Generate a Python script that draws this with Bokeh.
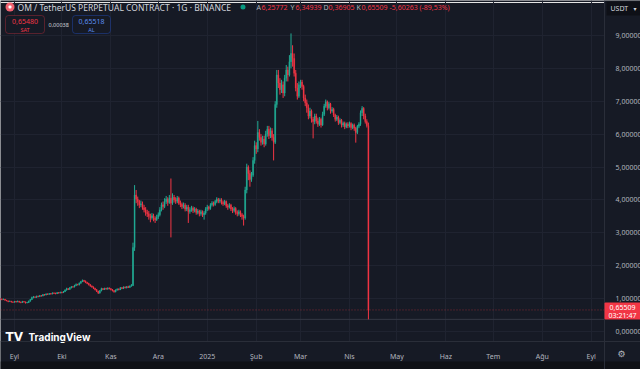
import datetime as dt
from bokeh.plotting import figure
from bokeh.models import (Range1d, LinearAxis, FixedTicker, CustomJSTickFormatter, Label,
                          BoxAnnotation, Span, ColumnDataSource, Grid)
from bokeh.embed import file_html
from bokeh.resources import INLINE

# ---------------- data (daily candles, OM/USDT perpetual) ----------------
first_date = "2024-08-23"
first_open = 1.00
closes = [
    0.99, 0.97, 0.98, 0.95, 0.93, 0.91, 0.92, 0.90, 0.89, 0.91,
    0.90, 0.92, 0.89, 0.88, 0.91, 0.90, 0.87, 0.88, 0.92, 0.97,
    1.03, 1.05, 1.04, 1.07, 1.06, 1.09, 1.08, 1.12, 1.11, 1.14,
    1.13, 1.15, 1.14, 1.17, 1.16, 1.15, 1.18, 1.17, 1.19, 1.18,
    1.21, 1.26, 1.30, 1.28, 1.33, 1.36, 1.35, 1.40, 1.43, 1.42,
    1.47, 1.52, 1.55, 1.53, 1.49, 1.46, 1.42, 1.38, 1.35, 1.31,
    1.27, 1.22, 1.17, 1.24, 1.30, 1.28, 1.31, 1.29, 1.32, 1.30,
    1.27, 1.24, 1.21, 1.26, 1.29, 1.27, 1.33, 1.31, 1.35, 1.33,
    1.36, 1.34, 1.38, 1.40, 2.55, 4.15, 4.02, 3.95, 3.85, 3.88,
    3.76, 3.70, 3.62, 3.58, 3.50, 3.46, 3.52, 3.44, 3.40, 3.48,
    3.55, 3.70, 3.85, 3.80, 3.95, 4.02, 3.92, 4.05, 3.90, 4.08,
    4.00, 3.96, 4.05, 3.90, 3.86, 3.80, 3.84, 3.72, 3.78, 3.65,
    3.70, 3.75, 3.68, 3.72, 3.62, 3.66, 3.58, 3.64, 3.55, 3.60,
    3.72, 3.78, 3.74, 3.85, 3.90, 3.86, 3.95, 4.02, 3.96, 4.00,
    3.92, 3.88, 3.95, 3.82, 3.78, 3.84, 3.72, 3.68, 3.74, 3.62,
    3.58, 3.64, 3.55, 3.50, 3.45, 4.30, 5.00, 4.80, 4.62, 4.75,
    5.20, 5.65, 5.55, 6.05, 5.90, 5.75, 5.85, 5.70, 6.00, 6.15,
    5.95, 6.10, 5.90, 5.75, 6.90, 7.80, 7.55, 7.35, 7.50, 7.25,
    7.70, 7.95, 7.80, 8.20, 8.45, 8.30, 7.85, 7.40, 7.15, 7.50,
    7.58, 7.45, 7.10, 6.95, 6.80, 6.55, 6.70, 6.45, 6.38, 6.55,
    6.40, 6.30, 6.45, 6.28, 6.60, 6.85, 6.98, 6.80, 6.92, 6.70,
    6.75, 6.58, 6.45, 6.52, 6.35, 6.42, 6.28, 6.33, 6.22, 6.30,
    6.25, 6.32, 6.20, 6.28, 6.18, 6.05, 6.24, 6.30, 6.65, 6.78,
    6.55, 6.38, 6.25772, 0.65509,
]
highs = [
    1.02, 1.00, 1.00, 0.99, 0.96, 0.94, 0.94, 0.93, 0.91, 0.93,
    0.93, 0.94, 0.93, 0.91, 0.93, 0.92, 0.91, 0.90, 0.94, 0.99,
    1.06, 1.08, 1.07, 1.09, 1.09, 1.11, 1.11, 1.14, 1.14, 1.16,
    1.16, 1.17, 1.17, 1.19, 1.19, 1.18, 1.20, 1.20, 1.21, 1.21,
    1.23, 1.28, 1.33, 1.32, 1.35, 1.38, 1.38, 1.42, 1.46, 1.45,
    1.49, 1.54, 1.58, 1.57, 1.55, 1.51, 1.48, 1.44, 1.40, 1.37,
    1.33, 1.29, 1.24, 1.26, 1.33, 1.32, 1.33, 1.33, 1.34, 1.34,
    1.32, 1.29, 1.26, 1.28, 1.31, 1.31, 1.35, 1.35, 1.37, 1.37,
    1.38, 1.39, 1.40, 1.44, 2.70, 4.45, 4.30, 4.10, 4.00, 3.98,
    3.95, 3.85, 3.78, 3.70, 3.66, 3.58, 3.60, 3.58, 3.50, 3.55,
    3.62, 3.78, 3.92, 3.95, 4.05, 4.12, 4.08, 4.15, 4.65, 4.20,
    4.15, 4.08, 4.12, 4.10, 3.98, 3.92, 3.92, 3.90, 3.85, 3.85,
    3.78, 3.82, 3.80, 3.78, 3.76, 3.72, 3.70, 3.70, 3.68, 3.66,
    3.78, 3.85, 3.82, 3.90, 3.96, 3.95, 4.00, 4.08, 4.06, 4.05,
    4.05, 3.98, 4.00, 3.98, 3.88, 3.90, 3.88, 3.78, 3.80, 3.78,
    3.68, 3.70, 3.68, 3.60, 3.55, 4.40, 5.10, 5.05, 4.90, 4.85,
    5.30, 5.80, 5.75, 6.40, 6.15, 6.00, 5.95, 5.95, 6.10, 6.25,
    6.25, 6.20, 6.18, 6.00, 7.00, 7.95, 7.95, 7.70, 7.65, 7.60,
    7.80, 8.10, 8.05, 8.40, 9.06, 8.70, 8.45, 7.95, 7.55, 7.60,
    7.65, 7.65, 7.50, 7.20, 7.05, 6.90, 6.80, 6.75, 6.52, 6.62,
    6.62, 6.50, 6.52, 6.50, 6.68, 6.92, 7.05, 7.02, 6.98, 6.95,
    6.82, 6.80, 6.62, 6.58, 6.56, 6.48, 6.46, 6.38, 6.38, 6.35,
    6.36, 6.38, 6.36, 6.32, 6.32, 6.22, 6.28, 6.36, 6.72, 6.85,
    6.82, 6.62, 6.45, 6.34939,
]
lows = [
    0.97, 0.95, 0.96, 0.94, 0.92, 0.89, 0.90, 0.88, 0.87, 0.88,
    0.88, 0.89, 0.88, 0.86, 0.87, 0.88, 0.85, 0.86, 0.87, 0.91,
    0.96, 1.01, 1.02, 1.02, 1.04, 1.05, 1.06, 1.07, 1.09, 1.10,
    1.11, 1.12, 1.12, 1.13, 1.14, 1.13, 1.14, 1.15, 1.16, 1.16,
    1.17, 1.20, 1.24, 1.26, 1.27, 1.31, 1.33, 1.34, 1.38, 1.40,
    1.40, 1.45, 1.50, 1.50, 1.47, 1.44, 1.40, 1.36, 1.33, 1.29,
    1.25, 1.20, 1.14, 1.15, 1.22, 1.26, 1.26, 1.27, 1.27, 1.28,
    1.25, 1.22, 1.18, 1.19, 1.24, 1.25, 1.26, 1.29, 1.29, 1.31,
    1.31, 1.32, 1.33, 1.36, 1.38, 2.45, 3.90, 3.82, 3.75, 3.78,
    3.70, 3.62, 3.52, 3.48, 3.40, 3.32, 3.40, 3.35, 3.30, 3.36,
    3.42, 3.50, 3.65, 3.70, 3.75, 3.88, 3.82, 3.88, 2.86, 3.85,
    3.92, 3.88, 3.90, 3.85, 3.78, 3.72, 3.74, 3.65, 3.66, 3.30,
    3.58, 3.64, 3.60, 3.62, 3.55, 3.56, 3.50, 3.52, 3.48, 3.40,
    3.55, 3.66, 3.68, 3.70, 3.80, 3.80, 3.82, 3.90, 3.90, 3.90,
    3.86, 3.82, 3.84, 3.76, 3.70, 3.74, 3.66, 3.60, 3.62, 3.55,
    3.50, 3.52, 3.48, 3.40, 3.22, 3.40, 4.20, 4.60, 4.40, 4.55,
    4.70, 5.10, 5.40, 5.45, 5.80, 5.65, 5.68, 5.60, 5.65, 5.92,
    5.85, 5.88, 5.80, 5.20, 5.70, 6.80, 7.40, 7.20, 7.25, 7.10,
    7.15, 7.60, 7.60, 7.75, 8.00, 8.05, 7.75, 7.30, 7.05, 7.10,
    7.40, 7.35, 7.00, 6.85, 6.65, 6.45, 6.48, 6.35, 5.87, 6.30,
    6.32, 6.22, 6.25, 6.20, 6.25, 6.55, 6.80, 6.72, 6.75, 6.62,
    6.65, 6.52, 6.38, 6.40, 6.28, 6.30, 6.20, 6.22, 6.15, 6.18,
    6.18, 6.20, 6.12, 6.15, 6.10, 5.74, 6.00, 6.18, 6.25, 6.55,
    6.45, 6.32, 6.20, 0.36905,
]
price_ticks = [0, 1, 2, 3, 4, 5, 6, 7, 8, 9]
month_ticks = ["2024-09-01", "2024-10-01", "2024-11-01", "2024-12-01", "2025-01-01",
               "2025-02-01", "2025-03-01", "2025-04-01", "2025-05-01", "2025-06-01",
               "2025-07-01", "2025-08-01", "2025-09-01"]
month_names = ["Oca", "Şub", "Mar", "Nis", "May", "Haz", "Tem", "Ağu", "Eyl", "Eki", "Kas", "Ara"]
title_text = "OM / TetherUS PERPETUAL CONTRACT · 1G · BINANCE"
bid_price, spread, ask_price = "0,65480", "0,00038", "0,65518"
countdown = "03:21:47"

# ---------------- styling / geometry ----------------
BG = "#161a25"
GRID = "#1f2330"
SEP = "#2a2e39"
TXT = "#b2b5be"
UP = "#22ab94"
DOWN = "#f23645"
FONT = "Noto Sans"
W, H = 640, 369
PX_DAY = 1.58            # px per daily bar
X_SEP1 = 14.0            # px of 2024-09-01
PX_UNIT = 32.9           # px per 1 USDT
Y_ZERO = 331.0           # px of price 0
AXIS_X, AXIS_Y = 604, 341

DAY = 86400000.0
def ms(s):
    d = dt.datetime.strptime(s, "%Y-%m-%d").replace(tzinfo=dt.timezone.utc)
    return d.timestamp() * 1000.0

sep1 = ms("2024-09-01")
def xval(px):
    return sep1 + (px - X_SEP1) / PX_DAY * DAY
def yval(py):
    return (Y_ZERO - py) / PX_UNIT

t0 = ms(first_date)
xs = [t0 + i * DAY for i in range(len(closes))]
opens = [first_open] + closes[:-1]
colors = [UP if c >= o else DOWN for o, c in zip(opens, closes)]
tops = [max(o, c) for o, c in zip(opens, closes)]
bots = [min(o, c) for o, c in zip(opens, closes)]
src = ColumnDataSource(dict(x=xs, o=opens, c=closes, h=highs, l=lows,
                            top=tops, bot=bots, color=colors))

p = figure(width=W, height=H, output_backend="svg", toolbar_location=None,
           x_axis_type=None, y_axis_location=None,
           x_range=Range1d(xval(0), xval(W)), y_range=Range1d(yval(H), yval(0)),
           min_border=0, min_border_left=0, min_border_right=0,
           min_border_top=0, min_border_bottom=0,
           background_fill_color=BG, border_fill_color=BG, outline_line_color=None)

xaxis = LinearAxis(ticker=FixedTicker(ticks=[ms(s) for s in month_ticks]),
                   fixed_location=yval(AXIS_Y),
                   formatter=CustomJSTickFormatter(args=dict(names=month_names), code="""
                       const d = new Date(tick);
                       const m = d.getUTCMonth();
                       if (m === 0) return String(d.getUTCFullYear());
                       return names[m];"""))
yaxis = LinearAxis(ticker=FixedTicker(ticks=price_ticks), fixed_location=xval(AXIS_X),
                   formatter=CustomJSTickFormatter(code="return tick.toFixed(5).replace('.', ',');"))
for ax in (xaxis, yaxis):
    ax.major_label_text_font = FONT
    ax.major_label_text_font_size = "7px"
    ax.major_label_text_color = TXT
    ax.major_tick_line_color = None
    ax.minor_tick_line_color = None
    ax.axis_line_color = SEP
    ax.level = "overlay"
xaxis.major_label_standoff = 4
yaxis.major_label_standoff = 5

p.add_layout(Grid(dimension=0, ticker=xaxis.ticker, grid_line_color=GRID))
p.add_layout(Grid(dimension=1, ticker=yaxis.ticker, grid_line_color=GRID))

# price lines
p.add_layout(Span(location=closes[-1], dimension="width", line_color=DOWN,
                  line_alpha=0.5, line_dash="1 2", line_width=1, level="underlay"))
p.add_layout(Span(location=lows[-1], dimension="width", line_color="#343845",
                  line_width=1, level="underlay"))

def sy(y):
    return H - y

def box(x0, y0, x1, y1, fill, line=None, radius=0, alpha=1.0, level="annotation"):
    p.add_layout(BoxAnnotation(left=x0, right=x1, top=sy(y0), bottom=sy(y1),
                               left_units="screen", right_units="screen",
                               top_units="screen", bottom_units="screen",
                               fill_color=fill, fill_alpha=alpha,
                               line_color=line, line_width=1, border_radius=int(radius),
                               level=level))

def label(x, y, text, size, color, align="left", bold=False, font=FONT, level="annotation"):
    p.add_layout(Label(x=x, y=sy(y), x_units="screen", y_units="screen", text=text,
                       text_font=font, text_font_size=size, text_color=color,
                       text_align=align, text_baseline="middle", level=level,
                       text_font_style="bold" if bold else "normal"))

# axis areas (cover grid and price lines there)
box(AXIS_X, 0, W, H, BG, level="underlay")
box(0, AXIS_Y, W, H, BG, level="underlay")
box(0, 361, W, H, "#0f1116", level="underlay")

p.add_layout(xaxis, "below")
p.add_layout(yaxis, "right")

# candles
p.segment(x0="x", y0="l", x1="x", y1="h", color="color", line_width=1, source=src)
p.vbar(x="x", width=0.62 * DAY, top="top", bottom="bot", fill_color="color",
       line_color="color", line_width=0.4, source=src)

# symbol icon + title
box(5, 2, 14, 11, "#f0606f", radius=5)
box(8, 5, 11, 8, "#ffffff", radius=1)
label(17, 7, title_text, "8.5px", "#d1d4dc")
box(240, 4, 245, 9, "#089981", radius=3)

def fmt(v):
    return f"{v:.5f}".replace(".", ",")

o, h, l, c = opens[-1], highs[-1], lows[-1], closes[-1]
chg = c - o
pct = chg / o * 100
parts = [("A", 256), ("Y", 290), ("D", 323), ("K", 356)]
for (lt, x), v in zip(parts, [o, h, l, c]):
    label(x, 7, lt, "7px", TXT)
    label(x + 5, 7, fmt(v), "7px", DOWN)
label(389, 7, f"{fmt(chg)} ({pct:.2f}%)".replace(".", ","), "7px", DOWN)

# bid / ask boxes
box(5, 15, 44, 33, BG, line=DOWN, radius=3)
label(24.5, 21, bid_price, "7px", DOWN, align="center")
label(24.5, 29, "SAT", "5.5px", DOWN, align="center")
label(48, 24, spread, "5.5px", "#d1d4dc")
box(72, 15, 110, 33, BG, line="#2962ff", radius=3)
label(91, 21, ask_price, "7px", "#5b8def", align="center")
label(91, 29, "AL", "5.5px", "#5b8def", align="center")

# currency box top right
box(606, 1, 640, 15, "#0e1017")
label(610, 8, "USDT", "7px", "#d1d4dc")
label(633, 8, "▾", "6px", "#d1d4dc", font="DejaVu Sans")

# last price tag
box(AXIS_X, 302, W, 319, DOWN, radius=1, level="overlay")
label(622, 306.5, fmt(c), "7px", "#ffffff", align="center", level="overlay")
label(622, 314.5, countdown, "7px", "#ffffff", align="center", level="overlay")

# TradingView watermark
label(5, 336, "TV", "12px", "#ffffff", bold=True, font="DejaVu Sans")
label(28, 336, "TradingView", "10px", "#ffffff", bold=True, font="Inter")

# settings icon
label(621, 353, "⚙", "9px", TXT, align="center", font="DejaVu Sans")

open("out.html", "w").write(file_html(p, INLINE))
